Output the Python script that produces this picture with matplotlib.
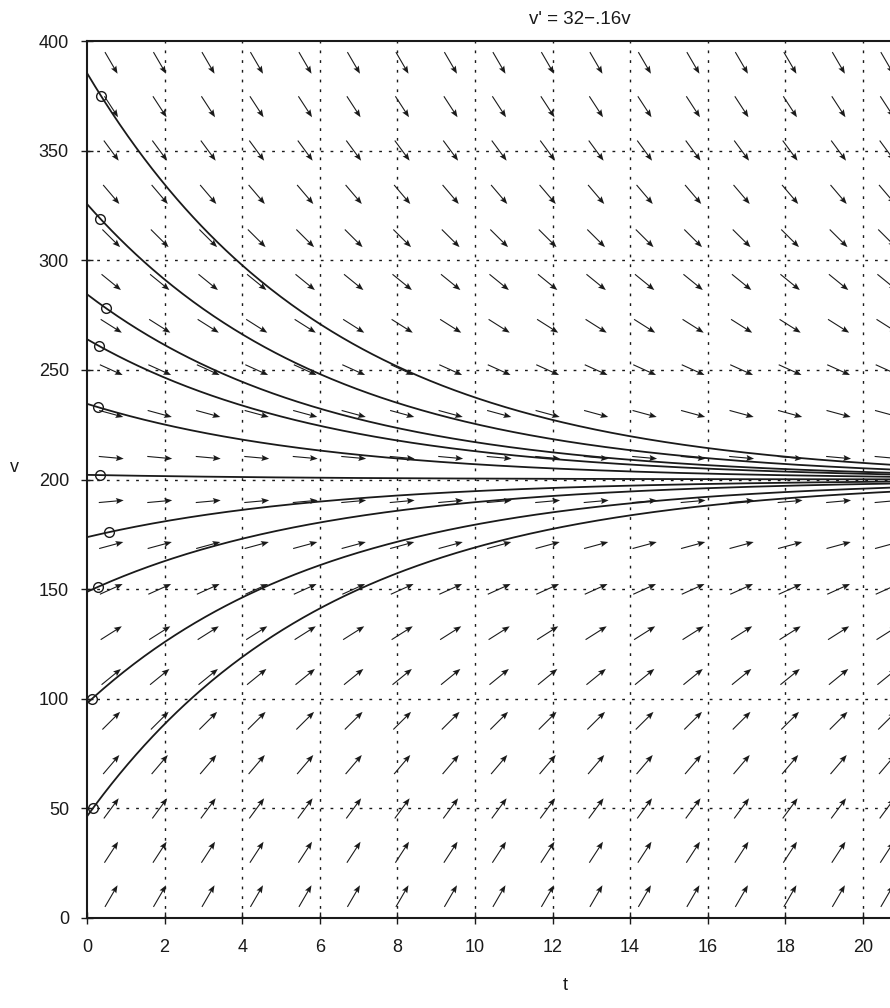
import numpy as np
import matplotlib
matplotlib.use("Agg")
import matplotlib.pyplot as plt

# ODE: v' = a - b v  (from title)
a_coef = 32.0
b_coef = 0.16

# clicked start points (circles)
start_t = [0.36, 0.34, 0.50, 0.30, 0.28, 0.33, 0.57, 0.28, 0.13, 0.15]
start_v = [375, 319, 278, 261, 233, 202, 176, 151, 100, 50]

# direction field grid
field_t = np.arange(17) * 1.25 + 0.625
field_v = np.arange(20) * 20 + 10

xticks = list(range(0, 21, 2))
yticks = list(range(0, 401, 50))

W, H, DPI = 890, 1008, 100
fig = plt.figure(figsize=(W / DPI, H / DPI), dpi=DPI)
plt.rcParams['font.family'] = ['Liberation Sans', 'DejaVu Sans']
ax = fig.add_axes([87 / W, 90 / H, (W - 87) / W, 877 / H])
xmin, xmax, ymin, ymax = 0, 20.7, 0, 400
ax.set_xlim(xmin, xmax)
ax.set_ylim(ymin, ymax)

ink = '#1a1a1a'
# grid
for t in xticks[1:]:
    ax.axvline(t, color=ink, lw=1.0, ls=(0, (2, 5)), zorder=1)
for v in yticks[1:-1]:
    ax.axhline(v, color=ink, lw=1.0, ls=(0, (2, 5)), zorder=1)

# direction field, normalized in display space
px_t = (W - 87) / (xmax - xmin)
px_v = 877 / (ymax - ymin)
T, V = np.meshgrid(field_t, field_v)
dvdt = a_coef - b_coef * V
dx = np.ones_like(V) * px_t
dy = dvdt * px_v
n = np.hypot(dx, dy)
L = 25.0
U = dx / n * L
Vv = dy / n * L
ax.quiver(T, V, U, Vv, angles='uv', scale_units='dots', scale=1, pivot='middle',
          units='dots', width=1.1, headwidth=5.5, headlength=7, headaxislength=6,
          color=ink, zorder=2)

# solution curves
tt = np.linspace(0, 21, 400)
for t0, v0 in zip(start_t, start_v):
    eq = a_coef / b_coef
    vv = eq + (v0 - eq) * np.exp(-b_coef * (tt - t0))
    ax.plot(tt, vv, color=ink, lw=1.3, zorder=3)
    ax.plot([t0], [v0], marker='o', ms=7, mfc='none', mec=ink, mew=1.0, zorder=4)

ax.set_xticks(xticks)
ax.set_yticks(yticks)
ax.tick_params(axis='both', direction='inout', length=8, width=1, labelsize=13, colors=ink)
ax.tick_params(axis='x', pad=11)
ax.tick_params(axis='y', pad=9)
ax.spines['right'].set_visible(False)
for s in ['left', 'bottom', 'top']:
    ax.spines[s].set_linewidth(1.5)
    ax.spines[s].set_color(ink)

fig.text(580 / W, 1 - 20 / H, "v' = 32\u2212.16v", ha='center', va='center', fontsize=13.5, color=ink)
fig.text(565 / W, 1 - 985 / H, "t", ha='center', va='center', fontsize=13, color=ink)
fig.text(14 / W, 1 - 468 / H, "v", ha='center', va='center', fontsize=13, color=ink)

fig.savefig("out.png", dpi=DPI, facecolor='white')
